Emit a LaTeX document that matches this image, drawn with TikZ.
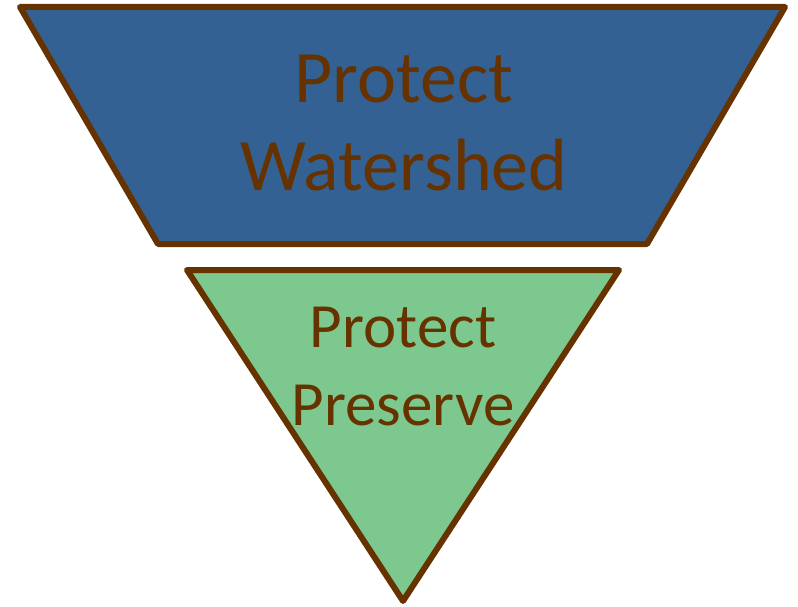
\documentclass[tikz,border=0pt]{standalone}
\usepackage{fontspec}
\setmainfont{Carlito}
\usepackage{tikz}
\usetikzlibrary{positioning}
\definecolor{mybrown}{RGB}{102,51,0}
\definecolor{myblue}{RGB}{51,97,148}
\definecolor{mygreen}{RGB}{124,200,142}

\begin{document}
\begin{tikzpicture}[x=1pt,y=-1pt,
    funnel/.style={draw=mybrown,line width=6pt,line join=round},
    label/.style={mybrown,align=center,anchor=base,inner sep=0pt}]
    \useasboundingbox (0,0) rectangle (798,607);
    % Upper funnel part
    \draw[funnel,fill=myblue] (20,7) -- (785,7) -- (647,244) -- (158,244) -- cycle;
    \node[label,font=\fontsize{74}{88}\selectfont] (watershed) at (404,190) {Protect\\Watershed};

    % Lower funnel part
    \draw[funnel,fill=mygreen] (187,270) -- (619,270) -- (403,601) -- cycle;
    \node[label,font=\fontsize{63}{78}\selectfont] (preserve) at (403,425) {Protect\\Preserve};
\end{tikzpicture}
\end{document}
